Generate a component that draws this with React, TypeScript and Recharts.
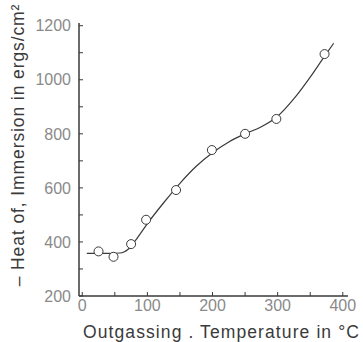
import React from 'react';
import { ComposedChart, Line, Scatter, XAxis, YAxis } from 'recharts';

// measured points (outgassing temperature, heat of immersion)
const pointTemps = [25, 48, 75, 98, 144, 199, 250, 298, 372];
const pointHeats = [365, 345, 392, 482, 592, 740, 800, 855, 1095];

// hand-drawn fitted curve
const curveTemps = [7, 40, 58, 64, 70, 80, 100, 125, 150, 175, 200, 225, 250, 275, 300, 325, 350, 370, 386];
const curveHeats = [358, 358, 359, 363, 372, 400, 468, 545, 617, 680, 730, 770, 800, 826, 865, 930, 1010, 1080, 1135];

const xTicks = [0, 50, 100, 150, 200, 250, 300, 350, 400];
const yTicks = [200, 300, 400, 500, 600, 700, 800, 900, 1000, 1100, 1200];

const points = pointTemps.map((t, i) => ({ t, h: pointHeats[i] }));
const curve = curveTemps.map((t, i) => ({ t, h: curveHeats[i] }));

const ink = '#3a3a3a';
const numColor = '#8a8a8a';

const YTitle = () => (
  <text
    x={18}
    y={145}
    transform="rotate(-90 18 145)"
    textAnchor="middle"
    dominantBaseline="central"
    fill={ink}
    fontSize={17.5}
    letterSpacing={0.9}
    fontFamily="Liberation Sans, Arial, sans-serif"
  >
    – Heat of, Immersion in ergs/cm²
  </text>
);

const App: React.FC = () => {
  return (
    <div style={{ position: 'absolute', left: 0, top: 0, width: 363, height: 342, background: '#fff' }}>
      <ComposedChart
        width={363}
        height={342}
        margin={{ top: 23, right: 15, bottom: 0, left: 0 }}
        style={{ fontFamily: 'Liberation Sans, Arial, sans-serif' }}
      >
        <XAxis
          xAxisId="b"
          dataKey="t"
          type="number"
          domain={[-5, 408]}
          ticks={xTicks}
          allowDataOverflow
          height={46}
          tickSize={-4}
          tickMargin={8}
          tickFormatter={(v: number) => (v % 100 === 0 ? String(v) : '')}
          tick={{ fill: numColor, fontSize: 16 }}
          axisLine={{ stroke: ink, strokeWidth: 1.5 }}
          tickLine={{ stroke: ink }}
          label={{
            value: 'Outgassing . Temperature in °C',
            position: 'insideBottom',
            offset: 4,
            dx: 8,
            fill: ink,
            fontSize: 17.5,
            letterSpacing: 1.1,
          }}
        />
        <XAxis xAxisId="t" orientation="top" type="number" domain={[-5, 408]} tick={false} height={0} axisLine={{ stroke: ink, strokeWidth: 1.2 }} />
        <YAxis
          yAxisId="l"
          dataKey="h"
          type="number"
          domain={[200, 1210]}
          ticks={yTicks}
          allowDataOverflow
          width={79}
          tickSize={-4}
          tickMargin={12}
          tickFormatter={(v: number) => (v % 200 === 0 ? String(v) : '')}
          tick={{ fill: numColor, fontSize: 16 }}
          axisLine={{ stroke: ink, strokeWidth: 1.5 }}
          tickLine={{ stroke: ink }}
          label={<YTitle />}
        />
        <YAxis yAxisId="r" orientation="right" type="number" domain={[200, 1210]} tick={false} width={0} axisLine={{ stroke: ink, strokeWidth: 1.2 }} />
        <Line
          xAxisId="b"
          yAxisId="l"
          data={curve}
          dataKey="h"
          type="monotone"
          stroke={ink}
          strokeWidth={1.2}
          dot={false}
          isAnimationActive={false}
        />
        <Scatter
          xAxisId="b"
          yAxisId="l"
          data={points}
          dataKey="h"
          fill="#fff"
          stroke={ink}
          strokeWidth={1}
          shape={(p: any) => <circle cx={p.cx} cy={p.cy} r={4.5} fill="#fff" stroke={ink} strokeWidth={1} />}
          isAnimationActive={false}
        />
      </ComposedChart>
    </div>
  );
};

export default App;
